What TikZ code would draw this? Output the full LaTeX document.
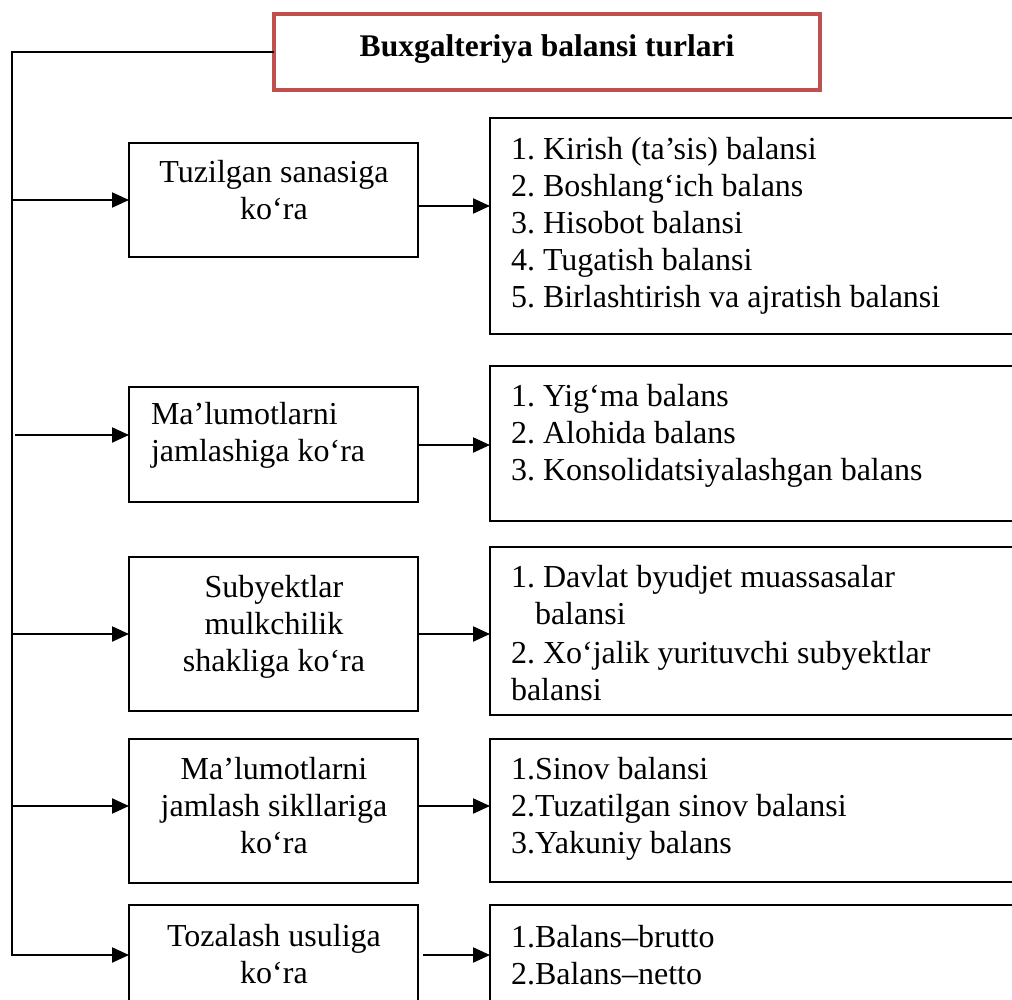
\documentclass[tikz,border=0pt]{standalone}
\usepackage{fontspec}
\setmainfont{Liberation Serif}
\usetikzlibrary{arrows.meta}
\definecolor{titlered}{RGB}{192,80,77}
\begin{document}
\frenchspacing
\begin{tikzpicture}[x=1pt,y=-1pt,
  box/.style={draw=black, line width=1.8pt, inner sep=0pt, outer sep=0pt, anchor=north west},
  txt/.style={inner sep=0pt, outer sep=0pt, font=\fontsize{32}{37}\selectfont\frenchspacing},
  arr/.style={line width=2.2pt, -{Triangle[length=17pt,width=15pt]}},
  wire/.style={line width=2.2pt}]
\useasboundingbox (0,0) rectangle (1012,1000);
\clip (0,0) rectangle (1012,1000);
\fill[white] (0,0) rectangle (1012,1000);

% title
\node[draw=titlered, line width=4.5pt, minimum width=546pt, minimum height=76pt,
      anchor=north west, inner sep=0pt, outer sep=0pt] (T) at (274,14) {};
\node[txt, font=\fontsize{31.5}{37}\selectfont\bfseries, anchor=base] (Tt) at (547,57)
  {Buxgalteriya balansi turlari};

% classification boxes (left column)
\node[box, minimum width=289pt, minimum height=114pt] (L1) at (129,143) {};
\node[box, minimum width=289pt, minimum height=115pt] (L2) at (129,387) {};
\node[box, minimum width=289pt, minimum height=154pt] (L3) at (129,557) {};
\node[box, minimum width=289pt, minimum height=144pt] (L4) at (129,739) {};
\node[box, minimum width=289pt, minimum height=100pt] (L5) at (129,905) {};

\node[txt, align=center, anchor=north] (L1t) at (274,157.1) {\strut Tuzilgan sanasiga\\ko‘ra};
\node[txt, align=left, anchor=north west] (L2t) at (151,398.1) {\strut Ma’lumotlarni\\jamlashiga ko‘ra};
\node[txt, align=center, anchor=north] (L3t) at (274,571.1) {\strut Subyektlar\\mulkchilik\\shakliga ko‘ra};
\node[txt, align=center, anchor=north] (L4t) at (274,753.1) {\strut Ma’lumotlarni\\jamlash sikllariga\\ko‘ra};
\node[txt, align=center, anchor=north] (L5t) at (274,920.1) {\strut Tozalash usuliga\\ko‘ra};

% balance lists (right column)
\node[box, minimum width=540pt, minimum height=216pt] (R1) at (490,118) {};
\node[box, minimum width=540pt, minimum height=155pt] (R2) at (490,366) {};
\node[box, minimum width=540pt, minimum height=168pt] (R3) at (490,547) {};
\node[box, minimum width=540pt, minimum height=143pt] (R4) at (490,739) {};
\node[box, minimum width=540pt, minimum height=100pt] (R5) at (490,905) {};

\node[txt, align=left, anchor=north west] (R1t) at (511,134.1)
  {\strut 1. Kirish (ta’sis) balansi\\2. Boshlang‘ich balans\\3. Hisobot balansi\\4. Tugatish balansi\\5. Birlashtirish va ajratish balansi};
\node[txt, align=left, anchor=north west] (R2t) at (511,380.1)
  {\strut 1. Yig‘ma balans\\2. Alohida balans\\3. Konsolidatsiyalashgan balans};
\node[txt, align=left, anchor=north west] (R3t) at (511,561.1)
  {\strut 1. Davlat byudjet muassasalar\\\hspace*{24pt}balansi\\[2pt]2. Xo‘jalik yurituvchi subyektlar\\balansi};
\node[txt, align=left, anchor=north west] (R4t) at (511,753.1)
  {\strut 1.Sinov balansi\\2.Tuzatilgan sinov balansi\\3.Yakuniy balans};
\node[txt, align=left, anchor=north west] (R5t) at (511,921.1)
  {\strut 1.Balans–brutto\\2.Balans–netto};

% trunk line on the left
\coordinate (tr) at (12,0);
\coordinate (a2) at ([yshift=9.5pt]L2.west);
\coordinate (a4) at ([yshift=5pt]L4.west);
\draw[arr] (T.west) -- (T.west -| tr) -- (tr |- L5.west) -- (L5.west);
\draw[arr] (tr |- L1.west) -- (L1.west);
\draw[arr] ([xshift=3pt]tr |- a2) -- (a2);
\draw[arr] (tr |- L3.west) -- (L3.west);
\draw[arr] (tr |- a4) -- (a4);

% links from each class to its list
\coordinate (b1) at ([yshift=-6pt]L1.east);
\coordinate (b2) at ([yshift=-0.5pt]L2.east);
\coordinate (b4) at ([yshift=5pt]L4.east);
\draw[arr] (b1) -- (b1 -| R1.west);
\draw[arr] (b2) -- (b2 -| R2.west);
\draw[arr] (L3.east) -- (L3.east -| R3.west);
\draw[arr] (b4) -- (b4 -| R4.west);
\draw[arr] ([xshift=5pt]L5.east) -- (L5.east -| R5.west);
\end{tikzpicture}
\end{document}
